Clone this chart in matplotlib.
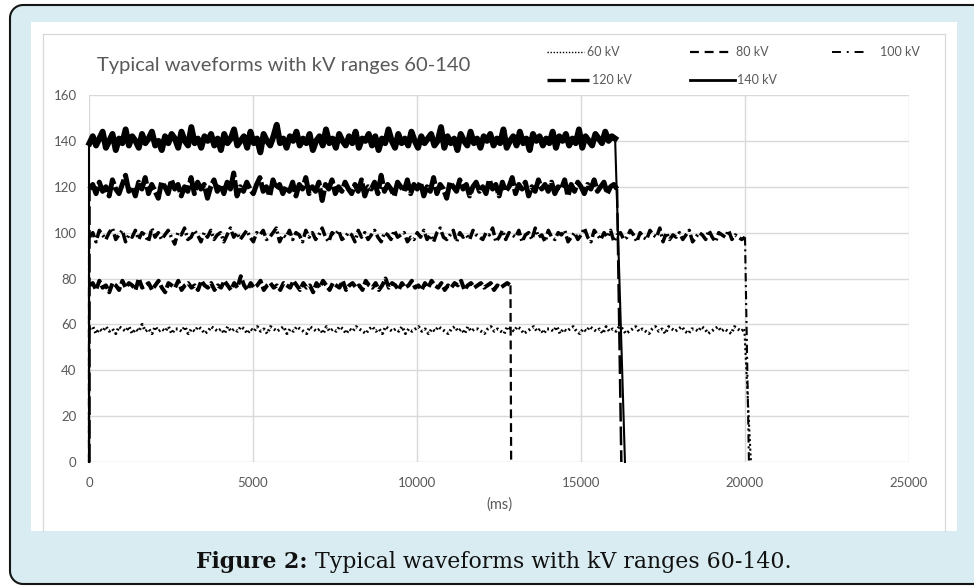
import numpy as np
import matplotlib
matplotlib.use("Agg")
import matplotlib.pyplot as plt
from matplotlib.patches import Rectangle, PathPatch
from matplotlib.path import Path
from matplotlib.lines import Line2D
from matplotlib.transforms import IdentityTransform

# ---------------- data (one sample every ~100 ms) ----------------
series_labels = ["60 kV", "80 kV", "100 kV", "120 kV", "140 kV"]
plateau_end_ms = [19980, 12850, 20000, 16100, 16040]
drop_end_ms = [20180, 12870, 20120, 16230, 16340]

v60 = [int(s) for s in """
58 59 56 58 57 59 57 58 56 59 58 57 59 56 58 57 60 57 58 56
59 57 58 57 59 56 58 58 57 59 56 58 57 59 58 56 57 59 58 57
58 56 59 57 58 57 59 58 56 58 57 59 57 58 56 59 58 57 58 59
56 58 57 59 58 57 56 59 58 57 58 56 59 57 58 57 59 58 56 58
57 59 58 57 56 58 59 57 58 56 59 58 57 58 57 59 56 58 57 58
59 57 58 56 58 57 59 58 57 56 58 59 57 58 56 59 57 58 58 57
56 58 59 57 58 57 56 59 58 57 59 58 56 57 58 59 57 58 56 58
58 57 59 56 58 57 58 59 57 56 58 57 59 58 57 58 56 59 57 58
57 59 58 56 57 58 59 57 58 57 56 58 59 57 58 56 59 58 57 58
59 57 56 58 58 57 59 58 56 57 58 59 57 58 57 56 59 58 57 58
""".split()]
v80 = [int(s) for s in """
77 78 75 79 76 77 74 78 77 75 79 76 78 77 75 80 76 77 78 75
77 79 76 74 78 77 76 79 75 77 78 76 77 75 79 77 76 78 75 77
76 79 77 75 78 76 81 77 75 78 76 77 79 75 77 78 76 77 75 78
77 76 79 77 75 78 76 77 74 78 76 79 77 75 78 77 76 79 75 77
78 76 77 75 79 77 76 78 75 77 80 76 78 77 75 78 76 77 79 76
77 75 78 76 79 77 76 78 75 77 76 78 77 79 75 77 78 76 77 78
76 77 78 75 77 76 77 78 77
""".split()]
v100 = [int(s) for s in """
98 100 96 101 99 97 100 102 97 99 101 96 99 98 101 97 100 99 96 102
98 100 97 99 101 98 95 100 99 102 97 98 101 99 96 100 98 101 97 99
100 96 99 102 98 100 97 99 101 98 96 100 99 101 97 98 100 102 96 99
98 101 97 100 99 96 101 98 100 97 99 102 98 96 100 99 101 97 98 100
99 96 101 98 100 97 99 101 98 96 100 99 97 101 98 99 100 96 98 97
100 98 101 97 99 96 100 102 98 97 99 101 96 100 98 99 97 101 99 98
97 100 99 102 96 98 101 97 100 99 98 101 96 99 100 97 102 98 99 96
101 98 97 100 99 101 96 98 100 97 99 102 98 96 101 99 97 100 98 101
96 99 100 97 98 101 99 96 100 98 97 101 99 98 102 96 100 97 99 98
100 97 99 101 96 98 100 99 97 101 98 96 100 99 98 101 97 99 98 97
98
""".split()]
v120 = [int(s) for s in """
119 121 117 122 118 120 116 123 119 117 121 125 118 120 116 122 119 124 117 121
118 115 122 120 117 123 119 121 116 120 118 124 117 122 119 121 115 120 123 118
121 117 122 119 126 116 120 118 122 119 117 121 124 118 120 116 123 119 121 117
120 118 122 116 121 119 124 117 120 118 122 114 121 119 123 117 120 118 122 119
117 121 118 123 116 120 119 122 117 125 118 121 119 116 122 120 118 123 117 121
119 122 116 120 118 124 117 121 119 115 122 120 118 123 119 121 116 120 122 118
120 117 123 119 121 116 122 118 120 124 117 121 119 122 116 120 118 123 119 121
118 122 117 120 119 123 116 121 118 122 120 117 121 119 123 118 120 122 117 120
121 119
""".split()]
v140 = [int(s) for s in """
139 142 138 141 144 137 140 143 136 141 139 145 138 142 140 137 143 139 141 144
138 140 136 142 139 143 141 137 144 140 138 146 139 141 137 142 140 143 138 141
136 143 139 141 145 138 140 142 137 144 139 141 135 143 140 138 142 147 139 141
137 142 140 144 138 141 139 143 136 140 142 138 145 139 141 137 143 140 138 142
139 144 137 141 140 143 138 142 136 141 139 145 140 137 143 139 141 138 144 140
137 142 139 141 143 138 140 146 137 142 139 141 136 143 140 138 144 139 141 137
142 140 143 138 141 139 145 137 140 142 138 144 139 141 136 143 140 142 138 141
139 144 137 142 140 143 138 141 139 145 137 142 140 138 143 141 139 144 140 142
141
""".split()]
series_values = [v60, v80, v100, v120, v140]

x_ticks = [0, 5000, 10000, 15000, 20000, 25000]
y_ticks = [0, 20, 40, 60, 80, 100, 120, 140, 160]
chart_title = "Typical waveforms with kV ranges 60-140"
x_label = "(ms)"
caption_bold = "Figure 2:"
caption_rest = " Typical waveforms with kV ranges 60-140."

# ---------------- styles ----------------
plateau_styles = [
    dict(lw=2.2, ls=(0, (0.6, 0.9))),
    dict(lw=2.9, ls=(0, (2.5, 0.8))),
    dict(lw=2.5, ls=(0, (3.0, 1.0, 0.6, 1.0))),
    dict(lw=3.6, ls=(0, (4.5, 0.6))),
    dict(lw=4.3, ls="-"),
]
edge_styles = [
    dict(lw=1.5, ls=(0, (1.0, 1.3))),
    dict(lw=1.6, ls=(0, (4.0, 2.2))),
    dict(lw=1.5, ls=(0, (4.0, 1.8, 1.0, 1.8))),
    dict(lw=1.8, ls=(0, (7.5, 2.0))),
    dict(lw=1.5, ls="-"),
]
legend_styles = [
    dict(lw=1.0, ls=(0, (1.0, 1.2))),
    dict(lw=1.6, ls=(0, (4.0, 2.6))),
    dict(lw=1.4, ls=(0, (4.6, 3.0, 1.0, 3.0))),
    dict(lw=2.4, ls=(0, (5.5, 1.6))),
    dict(lw=2.0, ls="-"),
]
# legend geometry (pixels): line x0, x1, text x, y
legend_pos = [(547, 584, 587, 52), (690, 733, 736, 52), (832, 867, 880, 52),
              (547, 590, 592, 80), (690, 735, 737, 80)]

W, H = 974, 586
plt.rcParams["font.family"] = ["Lato", "DejaVu Sans"]
fig = plt.figure(figsize=(W / 100, H / 100), dpi=100)
fig.patch.set_facecolor("white")
px = IdentityTransform()

# outer rounded panel, open on the right (it runs past the picture edge)
rad, xl, yt, yb, xr = 13.0, 10.0, H - 5.0, 2.0, 990.0
a1 = np.linspace(np.pi / 2, np.pi, 12)
a2 = np.linspace(np.pi, 1.5 * np.pi, 12)
outline = ([(xr, yt), (xl + rad, yt)]
           + [(xl + rad + rad * np.cos(a), yt - rad + rad * np.sin(a)) for a in a1]
           + [(xl, yb + rad)]
           + [(xl + rad + rad * np.cos(a), yb + rad + rad * np.sin(a)) for a in a2]
           + [(xr, yb)])
fig.add_artist(PathPatch(Path(outline + [outline[0]]), transform=px, facecolor="#d8ecf1",
                         edgecolor="none", zorder=0))
fig.add_artist(PathPatch(Path(outline), transform=px, facecolor="none",
                         edgecolor="#151515", linewidth=1.5, zorder=0.1))
# white chart area
fig.add_artist(Rectangle((31, H - 531), 926, 509, transform=px, facecolor="white",
                         edgecolor="none", zorder=0.5))
# inner light-grey chart frame
for xs, ys in [((43, 43), (H - 531, H - 34)), ((43, 945), (H - 34, H - 34)),
               ((945, 945), (H - 34, H - 531))]:
    fig.add_artist(Line2D(xs, ys, transform=px, color="#d9d9d9", lw=0.9, zorder=0.6))

ax = fig.add_axes([89 / W, 1 - 462 / H, 820 / W, 367 / H])
ax.set_facecolor("none")
ax.set_zorder(1)
for s in ax.spines.values():
    s.set_visible(False)
ax.set_xlim(0, 25000)
ax.set_ylim(0, 160)
ax.set_xticks(x_ticks)
ax.set_yticks(y_ticks)
ax.grid(True, color="#d9d9d9", lw=1.0)
ax.set_axisbelow(True)
ax.tick_params(length=0, labelsize=9.5, labelcolor="#595959")
ax.tick_params(axis="x", pad=10.5)
ax.tick_params(axis="y", pad=9)

for vals, pend, dend, pst, est in zip(series_values, plateau_end_ms, drop_end_ms,
                                      plateau_styles, edge_styles):
    xs = np.linspace(15, pend, len(vals))
    # rise at t=0 and fall at the end of the exposure
    ax.plot([0, 0, xs[0]], [0, vals[0], vals[0]], color="black", lw=est["lw"],
            linestyle=est["ls"], clip_on=False)
    ax.plot([xs[-1], dend], [vals[-1], 0], color="black", lw=est["lw"],
            linestyle=est["ls"], clip_on=False)
    # noisy plateau
    ax.plot(xs, vals, color="black", lw=pst["lw"], linestyle=pst["ls"], clip_on=False)

# titles / labels
fig.text(97 / W, 1 - 66 / H, chart_title, fontsize=14.5, color="#595959", ha="left", va="center")
fig.text(499 / W, 1 - 505 / H, x_label, fontsize=10.5, color="#595959", ha="center", va="center")

# legend
for lab, st, (x0, x1, tx, y) in zip(series_labels, legend_styles, legend_pos):
    fig.add_artist(Line2D((x0, x1), (H - y, H - y), transform=px, color="black",
                          lw=st["lw"], linestyle=st["ls"]))
    fig.text(tx / W, 1 - y / H, lab, fontsize=9, color="#595959", ha="left", va="center")

# caption
fig.canvas.draw()
r = fig.canvas.get_renderer()
cap_kw = dict(fontsize=15.8, color="#111111", va="center", ha="left", family="DejaVu Serif")
t1 = fig.text(0, 1 - 562 / H, caption_bold, fontweight="bold", **cap_kw)
t2 = fig.text(0, 1 - 562 / H, caption_rest, **cap_kw)
w1 = t1.get_window_extent(r).width
w2 = t2.get_window_extent(r).width
start = 494 - (w1 + w2) / 2
t1.set_x(start / W)
t2.set_x((start + w1) / W)

fig.savefig("out.png", dpi=100)
